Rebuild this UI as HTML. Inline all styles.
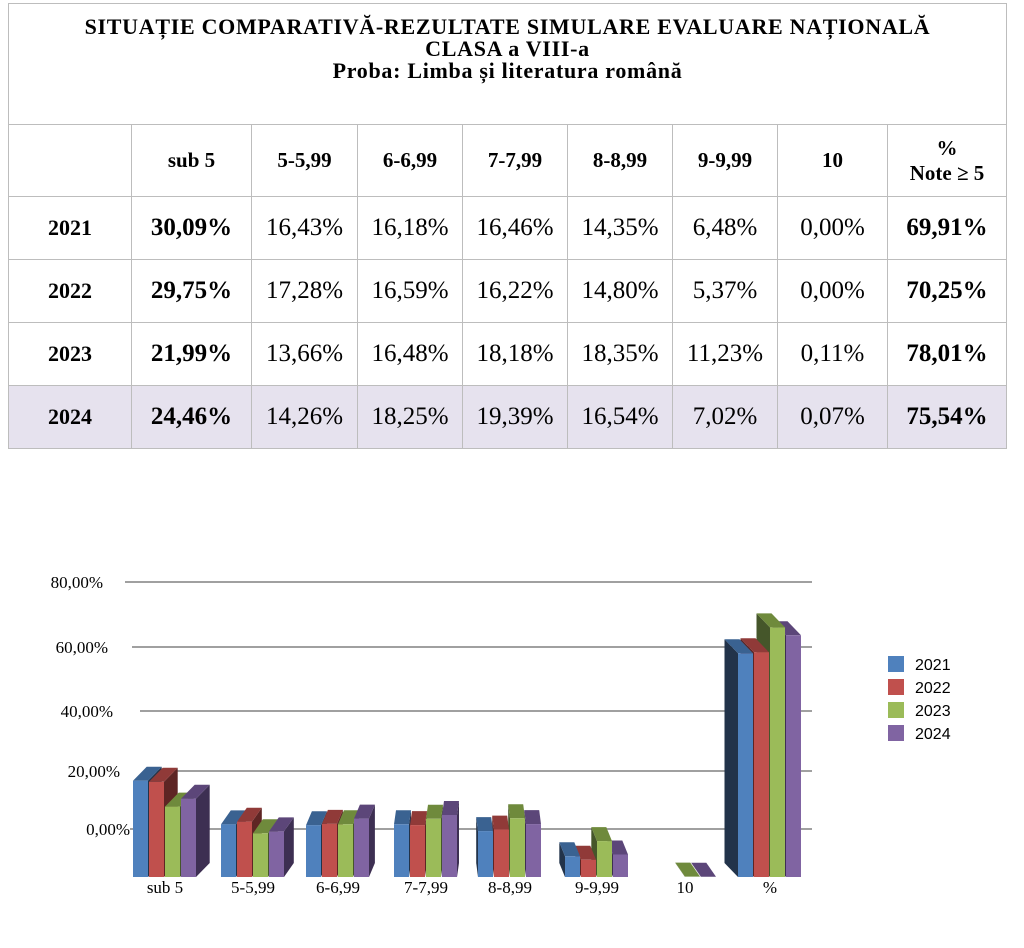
<!DOCTYPE html>
<html><head><meta charset="utf-8">
<style>
body{margin:0;background:#fff;width:1024px;height:948px;position:relative;overflow:hidden;font-family:"Liberation Serif",serif;}
table{position:absolute;left:8px;top:3px;border-collapse:collapse;width:999px;table-layout:fixed;}
td{border:1.5px solid #bdbdbd;text-align:center;font-size:25px;color:#000;padding:0;}
.t{height:108px;font-weight:bold;font-size:22px;letter-spacing:0.7px;line-height:22px;vertical-align:top;padding-top:12px;}
.h td{height:71px;font-weight:bold;font-size:21px;}
.r td{height:62px;}
.b{font-weight:bold;font-size:25px;}
.y{font-weight:bold;font-size:22px;}
.hl td{background:#e6e2ee;}
</style></head><body>
<table>
<colgroup><col style="width:123px"><col style="width:120px"><col style="width:106px"><col style="width:105px"><col style="width:105px"><col style="width:105px"><col style="width:105px"><col style="width:110px"><col></colgroup>
<tr><td class="t" colspan="9">SITUAȚIE COMPARATIVĂ-REZULTATE SIMULARE EVALUARE NAȚIONALĂ<br>CLASA a VIII-a<br>Proba: Limba și literatura română</td></tr>
<tr class="h"><td></td><td>sub 5</td><td>5-5,99</td><td>6-6,99</td><td>7-7,99</td><td>8-8,99</td><td>9-9,99</td><td>10</td><td>%<br>Note ≥ 5</td></tr>
<tr class="r"><td class="y">2021</td><td class="b">30,09%</td><td>16,43%</td><td>16,18%</td><td>16,46%</td><td>14,35%</td><td>6,48%</td><td>0,00%</td><td class="b">69,91%</td></tr>
<tr class="r"><td class="y">2022</td><td class="b">29,75%</td><td>17,28%</td><td>16,59%</td><td>16,22%</td><td>14,80%</td><td>5,37%</td><td>0,00%</td><td class="b">70,25%</td></tr>
<tr class="r"><td class="y">2023</td><td class="b">21,99%</td><td>13,66%</td><td>16,48%</td><td>18,18%</td><td>18,35%</td><td>11,23%</td><td>0,11%</td><td class="b">78,01%</td></tr>
<tr class="r hl"><td class="y">2024</td><td class="b">24,46%</td><td>14,26%</td><td>18,25%</td><td>19,39%</td><td>16,54%</td><td>7,02%</td><td>0,07%</td><td class="b">75,54%</td></tr>
</table>
<svg id="c" width="1024" height="948" style="position:absolute;left:0;top:0" xmlns="http://www.w3.org/2000/svg">
<g stroke="#a0a0a0" stroke-width="2">
<line x1="125" y1="582" x2="812" y2="582"/><line x1="132" y1="647" x2="812" y2="647"/>
<line x1="140" y1="711" x2="812" y2="711"/><line x1="150" y1="771" x2="812" y2="771"/><line x1="130" y1="829" x2="812" y2="829"/>
</g>
<g font-size="17" text-anchor="end" font-family="Liberation Serif,serif">
<text x="103" y="588">80,00%</text><text x="108" y="653">60,00%</text><text x="113" y="717">40,00%</text><text x="120" y="777">20,00%</text><text x="130" y="835">0,00%</text>
</g>
<g id="bars"></g>
<g font-size="17" text-anchor="middle" font-family="Liberation Serif,serif">
<text x="165" y="893">sub 5</text><text x="253" y="893">5-5,99</text><text x="338" y="893">6-6,99</text><text x="426" y="893">7-7,99</text><text x="510" y="893">8-8,99</text><text x="597" y="893">9-9,99</text><text x="685" y="893">10</text><text x="770" y="893">%</text>
</g>
<g font-size="16" font-family="Liberation Sans,sans-serif">
<rect x="888" y="656" width="16" height="16" fill="#4f81bd"/><text x="915" y="670">2021</text>
<rect x="888" y="679" width="16" height="16" fill="#c0504d"/><text x="915" y="693">2022</text>
<rect x="888" y="702" width="16" height="16" fill="#9bbb59"/><text x="915" y="716">2023</text>
<rect x="888" y="725" width="16" height="16" fill="#8064a2"/><text x="915" y="739">2024</text>
</g>
</svg>
<script>
var data=[[30.09,29.75,21.99,24.46],[16.43,17.28,13.66,14.26],[16.18,16.59,16.48,18.25],[16.46,16.22,18.18,19.39],[14.35,14.80,18.35,16.54],[6.48,5.37,11.23,7.02],[0,0,0.11,0.07],[69.91,70.25,78.01,75.54]];
var cx=[165,253,338,426,510,597,685,770];
var front=['#4f81bd','#c0504d','#9bbb59','#8064a2'],top_=['#3a6291','#903a38','#6f8a3c','#5c4679'],side=['#22334a','#5e2524','#45562a','#3d2f52'];
var base=877,k=3.2,s='';
function P(p,c){return '<polygon points="'+p.map(function(a){return a[0].toFixed(1)+','+a[1].toFixed(1)}).join(' ')+'" fill="'+c+'"/>';}
for(var g=0;g<8;g++){var c=cx[g],d=(470-c)*0.045,dy=14,w=15;
 var order=d>=0?[0,1,2,3]:[3,2,1,0];
 for(var q=0;q<4;q++){var i=order[q],v=data[g][i];if(v===0)continue;
  var x=c-32+i*16,y=base-v*k;
  if(d>=0)s+=P([[x+w,y],[x+w+d,y-dy],[x+w+d,base-dy],[x+w,base]],side[i]);
  else s+=P([[x,y],[x+d,y-dy],[x+d,base-dy],[x,base]],side[i]);
  s+=P([[x,y],[x+d,y-dy],[x+w+d,y-dy],[x+w,y]],top_[i]);
  if(base-y>1)s+='<rect x="'+x+'" y="'+y.toFixed(1)+'" width="'+w+'" height="'+(base-y).toFixed(1)+'" fill="'+front[i]+'"/>';
 }}
document.getElementById('bars').innerHTML=s;
</script>
</body></html>
